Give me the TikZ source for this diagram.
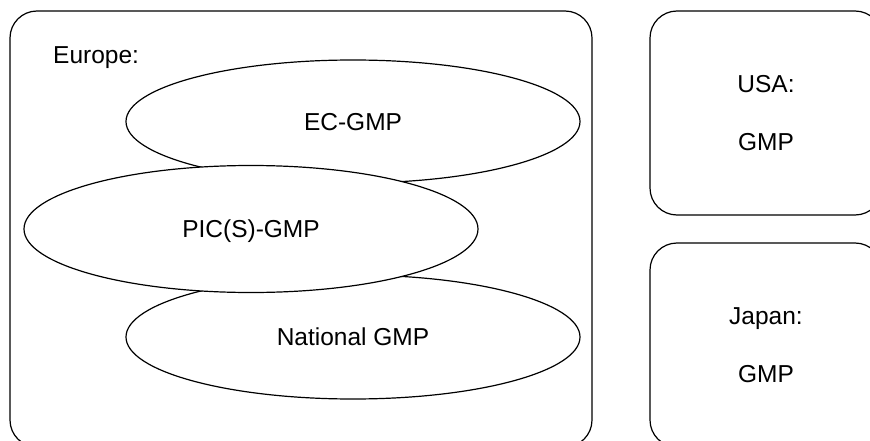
\documentclass[tikz,border=0pt]{standalone}
\usepackage{fontspec}
\setmainfont{Liberation Sans}
\usetikzlibrary{shapes.geometric}
\begin{document}
\begin{tikzpicture}[x=1pt,y=-1pt,
  every node/.style={font=\fontsize{24.5}{58}\selectfont},
  region/.style={draw,line width=1.2pt,rounded corners=27pt,inner sep=0pt},
  gmpell/.style={draw,ellipse,fill=white,line width=1.2pt,inner sep=0pt,
    minimum width=454pt,minimum height=123pt,text height=17.5pt,text depth=0pt}]
\useasboundingbox (0,0) rectangle (870,441);
\node[region,minimum width=582pt,minimum height=436pt] (europe) at (301,229) {};
\node[anchor=base west,inner sep=0pt] (eulabel) at (53,64) {Europe:};
\node[gmpell] (ec) at (353,121.5) {EC-GMP};
\node[gmpell,minimum height=124pt] (nat) at (353,337) {National GMP};
\node[gmpell,minimum height=127pt] (pic) at (251,229) {PIC(S)-GMP};
\node[region,align=center,minimum width=232pt,minimum height=204pt] (usa) at (766,113) {USA:\\GMP};
\node[region,align=center,minimum width=232pt,minimum height=204pt] (japan) at (766,345) {Japan:\\GMP};
\end{tikzpicture}
\end{document}
